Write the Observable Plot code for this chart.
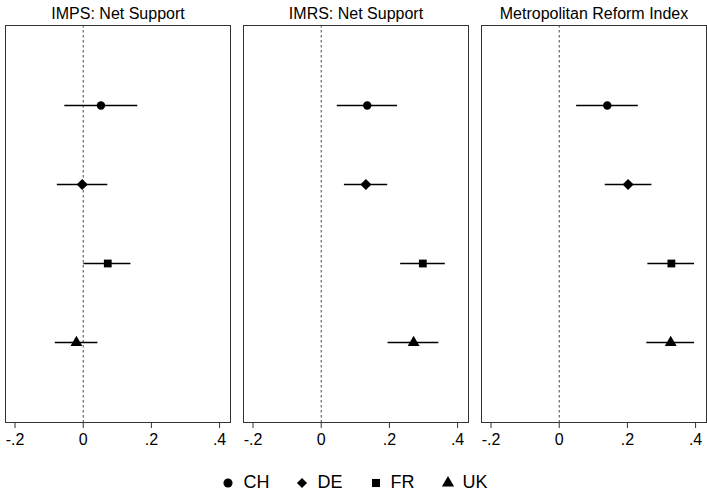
<!DOCTYPE html>
<html>
<head>
<meta charset="utf-8">
<script src="https://cdn.jsdelivr.net/npm/d3@7"></script>
<script src="https://cdn.jsdelivr.net/npm/@observablehq/plot@0.6"></script>
<style>
  html, body { margin: 0; padding: 0; background: #fff; }
  body { font-family: "Liberation Sans", Arial, sans-serif; width: 707px; }
  #legend { display: flex; justify-content: center; padding-left: 2px; margin-top: 14px; }
  #legend > * { margin: 0 !important; }
  #legend span { margin-right: 26px !important; }
  #legend span:last-child { margin-right: 0 !important; }
  #legend span > svg { margin-right: 8px !important; }
</style>
</head>
<body>
<div id="chart"></div>
<div id="legend"></div>
<script>
const panels = ["IMPS: Net Support", "IMRS: Net Support", "Metropolitan Reform Index"];
const countries = ["CH", "DE", "FR", "UK"];
const symbols = ["circle", "diamond2", "square", "triangle"];
const xTicks = [-0.2, 0, 0.2, 0.4];
const xTickLabels = ["-.2", "0", ".2", ".4"];

// point estimates per panel (order: CH, DE, FR, UK)
const estImps = [0.052, -0.003, 0.072, -0.020];
const loImps  = [-0.054, -0.076, 0.002, -0.082];
const hiImps  = [0.160, 0.072, 0.140, 0.043];

const estImrs = [0.135, 0.131, 0.298, 0.271];
const loImrs  = [0.047, 0.068, 0.233, 0.196];
const hiImrs  = [0.224, 0.195, 0.364, 0.345];

const estMri = [0.141, 0.202, 0.329, 0.327];
const loMri  = [0.051, 0.135, 0.260, 0.257];
const hiMri  = [0.232, 0.272, 0.397, 0.397];

const series = [[estImps, loImps, hiImps], [estImrs, loImrs, hiImrs], [estMri, loMri, hiMri]];
const rows = [];
panels.forEach((p, i) => {
  countries.forEach((c, j) => {
    rows.push({panel: p, country: c, est: series[i][0][j], lo: series[i][1][j], hi: series[i][2][j]});
  });
});

const chart = Plot.plot({
  width: 707,
  height: 452,
  marginLeft: 4,
  marginRight: 0,
  marginTop: 25,
  marginBottom: 30,
  style: {fontFamily: "Liberation Sans, Arial, sans-serif", fontSize: "16px", color: "black", background: "white"},
  fx: {domain: panels, padding: 0.055, label: null, axis: null},
  x: {domain: [-0.228, 0.432], label: null, axis: null},
  y: {type: "point", domain: countries, padding: 1, axis: null},
  r: {type: "identity"},
  symbol: {domain: countries, range: symbols},
  marks: [
    Plot.frame({stroke: "#333", strokeWidth: 1}),
    Plot.ruleX([0], {stroke: "#444", strokeDasharray: "2.5,2.5", strokeWidth: 1}),
    Plot.axisX({ticks: xTicks, tickFormat: (d) => xTickLabels[xTicks.indexOf(d)], tickSize: 6, tickPadding: 5, stroke: "#333", label: null}),
    Plot.axisFx({anchor: "top", tickSize: 0, tickPadding: 7, label: null}),
    Plot.ruleY(rows, {fx: "panel", y: "country", x1: "lo", x2: "hi", stroke: "black", strokeWidth: 1.4}),
    Plot.dot(rows, {fx: "panel", y: "country", x: "est", symbol: "country", fill: "black", stroke: "none",
      r: (d) => d.country === "DE" ? 5 : (d.country === "CH" ? 4.2 : 4.4)})
  ]
});
document.getElementById("chart").appendChild(chart);

const leg = chart.legend("symbol", {fill: "black", stroke: "none", r: 5.2, swatchSize: 14, style: {fontSize: "18px", fontFamily: "Liberation Sans, Arial, sans-serif", color: "black"}});
document.getElementById("legend").appendChild(leg);
</script>
</body>
</html>
